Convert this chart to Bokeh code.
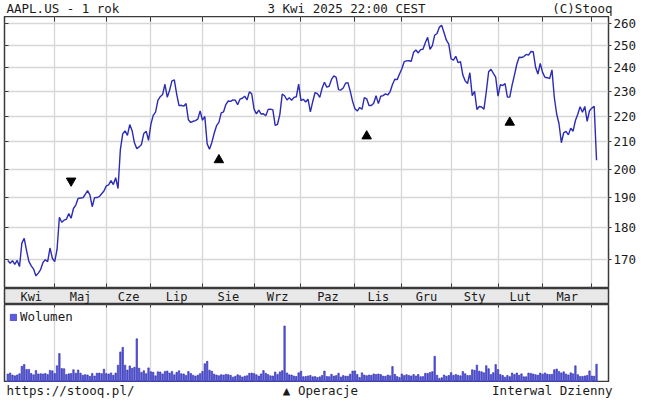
from bokeh.plotting import figure
from bokeh.layouts import column
from bokeh.models import (Range1d, FixedTicker, LinearAxis, LogAxis, Grid,
                          PrintfTickFormatter)
from bokeh.core.properties import value
from bokeh.embed import file_html
from bokeh.resources import INLINE

FONT = "DejaVu Sans Mono"
TXT = "#1a1a1a"

# ---------------- data ----------------
month_labels = ["Kwi", "Maj", "Cze", "Lip", "Sie", "Wrz", "Paz", "Lis", "Gru", "Sty", "Lut", "Mar", ""]

close_apr24 = [169.65, 168.82, 169.58, 168.45, 169.67, 167.78, 175.04, 176.55, 172.69, 169.38,
               168.00, 167.04, 165.00, 165.84, 166.90, 169.02, 169.89, 169.30, 173.50, 170.33]
close_may24 = [169.30, 173.03, 183.38, 181.71, 182.40, 182.74, 184.57, 183.05, 186.28, 187.43, 189.72,
               189.84, 189.87, 191.04, 192.35, 190.90, 186.88, 189.98, 189.99, 190.29, 191.29, 192.25]
close_jun24 = [194.03, 194.35, 195.87, 194.48, 196.89, 193.12, 207.15, 213.07, 214.24, 212.49,
               216.67, 214.29, 209.68, 207.49, 208.14, 209.07, 213.25, 214.10, 210.62]
close_jul24 = [216.75, 220.27, 221.55, 226.34, 227.82, 228.68, 232.98, 227.57, 230.54, 234.40, 234.82,
               228.88, 224.18, 224.31, 223.96, 225.01, 218.54, 217.49, 217.96, 218.24, 218.80, 222.08]
close_aug24 = [218.36, 219.86, 209.27, 207.23, 209.82, 213.31, 216.24, 217.53, 221.27, 221.72, 224.72,
               226.05, 225.89, 226.51, 226.40, 224.53, 226.84, 227.18, 228.03, 226.49, 229.79, 229.00]
close_sep24 = [222.77, 220.85, 222.38, 220.82, 220.91, 220.11, 222.66, 222.77, 222.50, 216.32,
               216.79, 220.69, 228.87, 228.20, 226.47, 227.37, 226.37, 227.52, 227.79, 233.00]
close_oct24 = [226.21, 226.78, 225.67, 226.80, 221.69, 225.77, 229.54, 229.04, 227.55, 231.30, 233.85,
               231.78, 232.15, 235.00, 236.48, 235.86, 230.76, 230.57, 231.41, 233.40, 233.67, 230.10, 225.91]
close_nov24 = [222.91, 222.01, 223.45, 222.72, 227.48, 226.96, 224.23, 224.23, 225.12, 228.22,
               225.00, 228.02, 228.28, 229.00, 228.52, 229.87, 232.87, 235.06, 234.93, 237.33]
close_dec24 = [239.59, 242.65, 243.01, 243.04, 242.84, 246.75, 247.77, 246.49, 247.96, 248.13, 251.04,
               253.48, 248.05, 249.79, 254.49, 255.27, 258.20, 259.02, 255.59, 252.20, 250.42]
close_jan25 = [243.85, 243.36, 245.00, 242.21, 242.70, 236.85, 234.40, 233.28, 237.87, 228.26,
               229.98, 222.64, 223.83, 223.66, 222.78, 229.86, 238.26, 239.36, 237.59, 236.00]
close_feb25 = [228.01, 232.80, 232.47, 233.22, 227.63, 227.65, 232.62, 236.87, 241.53, 244.60,
               244.47, 244.87, 245.83, 245.55, 247.10, 247.04, 240.36, 237.30, 241.84]
close_mar25 = [238.03, 235.93, 235.74, 235.33, 239.07, 227.48, 220.84, 216.98, 209.68, 213.49, 214.00,
               212.69, 215.24, 214.10, 218.27, 220.73, 223.75, 221.53, 223.85, 217.90, 222.13]
close_apr25 = [223.19, 223.89, 203.19]

# volume, millions of shares
vol_apr24 = [47.7, 53.7, 42.1, 37.4, 42.5, 49.7, 91.1, 101.6, 73.5, 73.7, 50.9, 43.1, 68.1, 48.1,
             49.5, 48.3, 50.6, 44.8, 68.2, 65.9]
vol_may24 = [50.4, 94.2, 163.2, 78.6, 77.3, 45.1, 48.9, 50.8, 72.0, 52.4, 70.4, 52.8, 41.3, 44.4,
             42.3, 34.6, 51.0, 36.3, 52.3, 53.1, 49.9, 75.2]
vol_jun24 = [50.1, 47.5, 54.2, 41.2, 53.5, 97.3, 172.4, 198.1, 97.9, 70.1, 93.7, 79.9, 86.2, 246.4,
             80.7, 56.7, 66.2, 49.8, 82.5]
vol_jul24 = [60.4, 58.0, 37.4, 60.4, 59.1, 48.1, 62.6, 64.7, 53.0, 62.6, 43.2, 57.3, 66.0, 49.2,
             48.2, 39.9, 61.8, 51.4, 41.6, 36.3, 41.6, 50.0]
vol_aug24 = [62.5, 105.6, 119.5, 69.7, 63.5, 47.2, 42.2, 38.0, 44.2, 41.9, 46.4, 44.3, 40.7, 30.3,
             34.8, 43.7, 38.7, 30.6, 35.9, 38.1, 51.9, 52.9]
vol_sep24 = [50.2, 43.8, 36.6, 48.4, 67.2, 51.6, 44.6, 37.5, 36.8, 59.4, 45.5, 59.9, 66.8, 318.7,
             54.1, 43.6, 42.3, 36.6, 34.0, 54.8]
vol_oct24 = [63.3, 32.9, 34.0, 37.2, 39.5, 31.9, 33.6, 28.2, 31.8, 39.9, 64.8, 34.1, 32.9, 46.4,
             36.3, 38.8, 52.3, 31.1, 38.8, 36.1, 35.4, 47.1, 64.4]
vol_nov24 = [65.3, 44.9, 28.1, 54.6, 42.1, 38.3, 42.0, 40.4, 48.6, 44.9, 47.9, 44.7, 36.2, 35.2,
             42.1, 38.2, 90.2, 45.9, 33.5, 28.5]
vol_dec24 = [48.1, 38.9, 44.4, 40.0, 36.9, 44.6, 36.9, 45.2, 32.8, 33.2, 51.7, 51.4, 56.8, 60.9,
             147.5, 40.9, 23.2, 27.2, 42.4, 35.6, 39.5]
vol_jan25 = [55.7, 40.2, 45.0, 40.9, 37.6, 61.7, 49.6, 39.4, 39.8, 71.8, 68.5, 98.1, 64.1, 60.2,
             54.7, 94.9, 77.5, 45.1, 55.7, 101.1]
vol_feb25 = [73.1, 45.1, 39.6, 29.9, 39.7, 33.1, 53.7, 45.2, 53.6, 40.9, 48.8, 32.2, 32.3, 53.2,
             51.3, 48.0, 44.4, 41.2, 53.0]
vol_mar25 = [47.2, 53.8, 47.2, 45.2, 46.3, 72.1, 76.1, 62.5, 54.0, 60.1, 48.1, 42.4, 54.4, 48.9,
             94.1, 44.3, 34.5, 34.5, 37.1, 39.8, 65.5]
vol_apr25 = [36.4, 35.9, 103.4]

# corporate operations (dividends): month number in list, position within month, marker level
ops_month = [1, 4, 7, 10]
ops_pos = [7, 7, 5, 5]
ops_level = [195.8, 203.3, 212.2, 217.5]
ops_dir = ["down", "up", "up", "up"]

price_levels = [170, 180, 190, 200, 210, 220, 230, 240, 250, 260]

closes_by_month = [close_apr24, close_may24, close_jun24, close_jul24, close_aug24, close_sep24,
                   close_oct24, close_nov24, close_dec24, close_jan25, close_feb25, close_mar25,
                   close_apr25]
vols_by_month = [vol_apr24, vol_may24, vol_jun24, vol_jul24, vol_aug24, vol_sep24, vol_oct24,
                 vol_nov24, vol_dec24, vol_jan25, vol_feb25, vol_mar25, vol_apr25]

# ---------------- derived ----------------
closes, vols, starts = [], [], []
for c, v in zip(closes_by_month, vols_by_month):
    starts.append(len(closes))
    closes += c
    vols += v
idx = list(range(len(closes)))
bounds = starts[1:]
mids = [(starts[i] + starts[i + 1]) / 2 for i in range(len(starts) - 1)]
labs = month_labels[:len(mids)]

up_x = [starts[m] + p for m, p, d in zip(ops_month, ops_pos, ops_dir) if d == "up"]
up_y = [l for l, d in zip(ops_level, ops_dir) if d == "up"]
dn_x = [starts[m] + p for m, p, d in zip(ops_month, ops_pos, ops_dir) if d == "down"]
dn_y = [l for l, d in zip(ops_level, ops_dir) if d == "down"]

# ---------------- layout ----------------
W = 638
LB = 4
RB = 30
FW = W - LB - RB
xr = Range1d(-1.4, 256.1)
GRID = "#d6d6d6"
EDGE = "#3a3a3a"


def common(fig):
    fig.min_border_left = LB
    fig.min_border_right = RB
    fig.min_border_top = 0
    fig.min_border_bottom = 0
    fig.background_fill_color = "white"
    fig.border_fill_color = "white"


def tick_axis(cls, ticks, tin):
    return cls(ticker=FixedTicker(ticks=ticks), major_tick_in=tin, major_tick_out=0,
               minor_tick_line_color=None, major_label_text_font_size="0px",
               major_label_text_color=None, major_label_standoff=0, axis_line_color=None,
               major_tick_line_color=EDGE, major_tick_line_width=1)


def text_strip(items, yv):
    f = figure(frame_width=W, frame_height=16, x_range=Range1d(0, W), y_range=Range1d(0, 1),
               x_axis_type=None, y_axis_type=None, output_backend="svg", toolbar_location=None,
               min_border=0)
    f.outline_line_color = None
    f.grid.visible = False
    for tx, al, xp in items:
        f.text(x=[xp], y=[yv], text=[tx], text_align=al, text_baseline="middle",
               text_font=value(FONT), text_font_size="12.5px", text_color=TXT)
    return f


# header
hdr = text_strip([("AAPL.US - 1 rok", "left", 2), ("3 Kwi 2025 22:00 CEST", "center", 342),
                  ("(C)Stooq", "right", LB + FW)], 0.5)

# main price chart
p = figure(frame_width=FW, frame_height=272, x_range=xr, y_range=Range1d(161.3, 263.2),
           y_axis_type="log", y_axis_location="right", output_backend="svg",
           toolbar_location=None)
common(p)
p.outline_line_color = EDGE
p.outline_line_width = 1.5
xa = p.xaxis[0]
xa.ticker = FixedTicker(ticks=bounds)
xa.major_tick_in = 5
xa.major_tick_out = 0
xa.minor_tick_line_color = None
xa.major_label_text_font_size = "0px"
xa.major_label_text_color = None
xa.major_label_standoff = 0
xa.axis_line_color = None
xa.major_tick_line_color = EDGE
ya = p.yaxis[0]
ya.ticker = FixedTicker(ticks=price_levels)
ya.formatter = PrintfTickFormatter(format="%d")
ya.major_tick_out = 3
ya.major_tick_in = 0
ya.minor_tick_line_color = None
ya.major_label_standoff = 2
ya.axis_line_color = None
ya.major_tick_line_color = EDGE
ya.major_label_text_font = FONT
ya.major_label_text_font_size = "12.5px"
ya.major_label_text_color = TXT
p.add_layout(tick_axis(LinearAxis, bounds, 5), "above")
p.add_layout(tick_axis(LogAxis, price_levels, 4), "left")
p.xgrid[0].ticker = FixedTicker(ticks=bounds)
p.ygrid[0].ticker = FixedTicker(ticks=price_levels)
p.grid.grid_line_color = GRID
p.grid.grid_line_width = 1.3

p.line(idx, closes, line_color="#2b2bb5", line_width=1.4)
p.scatter(up_x, up_y, marker="triangle", size=9.5, color="black")
p.scatter(dn_x, dn_y, marker="inverted_triangle", size=9.5, color="black")

# month band
band = figure(frame_width=FW, frame_height=16, x_range=xr, y_range=Range1d(0, 1),
              x_axis_type=None, y_axis_type=None, output_backend="svg", toolbar_location=None)
common(band)
band.background_fill_color = "#e8e8e8"
band.outline_line_color = EDGE
band.outline_line_width = 1.5
band.grid.visible = False
band.text(x=mids, y=[0.5] * len(mids), text=labs, text_align="center", text_baseline="middle",
          text_font=value(FONT), text_font_size="12px", text_color=TXT)

# volume
vol = figure(frame_width=FW, frame_height=78, x_range=xr, y_range=Range1d(0, 440),
             x_axis_type=None, y_axis_type=None, output_backend="svg", toolbar_location=None)
common(vol)
vol.outline_line_color = EDGE
vol.outline_line_width = 1.5
vol.add_layout(Grid(dimension=0, ticker=FixedTicker(ticks=bounds), grid_line_color=GRID,
                    grid_line_width=1.3))
vol.add_layout(tick_axis(LinearAxis, bounds, 3), "above")
vol.vbar(x=idx, top=vols, bottom=0, width=0.62, fill_color="#5a5ae4", line_color="#2a2aa8",
         line_width=0.6, legend_label="Wolumen")
lg = vol.legend[0]
lg.location = "top_left"
lg.border_line_color = None
lg.background_fill_alpha = 0
lg.label_text_font = FONT
lg.label_text_font_size = "12.5px"
lg.label_text_color = TXT
lg.glyph_width = 8
lg.glyph_height = 8
lg.label_standoff = 3
lg.padding = 0
lg.margin = 5
lg.spacing = 0
lg.label_height = 10

# footer
ftr = text_strip([("https://stooq.pl/", "left", 2), ("▲ Operacje", "center", 316),
                  ("Interwal Dzienny", "right", LB + FW)], 0.5)

layout = column(hdr, p, band, vol, ftr, spacing=0)
open("out.html", "w").write(file_html(layout, INLINE))
